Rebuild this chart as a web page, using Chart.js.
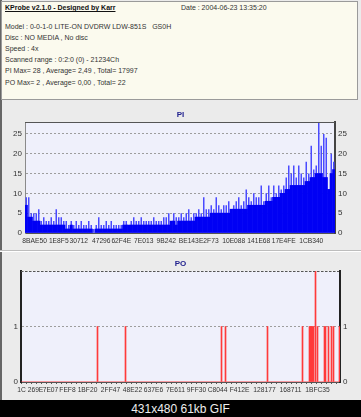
<!DOCTYPE html>
<html>
<head>
<meta charset="utf-8">
<script src="https://cdn.jsdelivr.net/npm/chart.js@4/dist/chart.umd.min.js"></script>
<style>
  html, body { margin: 0; padding: 0; background: #000; }
  #frame { position: relative; width: 361px; height: 417px; overflow: hidden; background: #000; font-family: "Liberation Sans", Arial, sans-serif; }
  #panel { position: absolute; left: 0; top: 0; width: 361px; height: 400px; background: #ebebeb; border-left: 2px solid #666; box-sizing: border-box; }
  #head { position: absolute; left: 1px; top: 1px; width: 357px; height: 99px; background: #fbfaee; border: 1px solid #9a9a9a; box-sizing: border-box; }
  .ln { position: absolute; left: 3px; font-size: 7px; color: #333; white-space: pre; line-height: 8px; }
  .ttl { font-weight: bold; text-decoration: underline; color: #111; }
  #sep { position: absolute; left: 0; top: 250px; width: 361px; height: 1px; background: #bdbdbd; border-bottom: 1px solid #fff; }
  canvas { position: absolute; left: 0; }
  #cap { position: absolute; left: 0; top: 402px; width: 361px; text-align: center; color: #eee; font-size: 12px; }
</style>
</head>
<body>
<div id="frame">
  <div id="panel"></div>
  <div id="head">
    <div class="ln ttl" style="top:2px">KProbe v2.1.0 - Designed by Karr</div>
    <div class="ln" style="top:2px;left:179px">Date : 2004-06-23 13:35:20</div>
    <div class="ln" style="top:21px">Model : 0-0-1-0 LITE-ON DVDRW LDW-851S   GS0H</div>
    <div class="ln" style="top:32px">Disc : NO MEDIA , No disc</div>
    <div class="ln" style="top:43px">Speed : 4x</div>
    <div class="ln" style="top:54px">Scanned range : 0:2:0 (0) - 21234Ch</div>
    <div class="ln" style="top:65px">PI Max= 28 , Average= 2,49 , Total= 17997</div>
    <div class="ln" style="top:77px">PO Max= 2 , Average= 0,00 , Total= 22</div>
  </div>
  <canvas id="piChart" width="361" height="147" style="top:103px"></canvas>
  <div id="sep"></div>
  <canvas id="poChart" width="361" height="148" style="top:252px"></canvas>
  <div id="cap">431x480 61kb GIF</div>
</div>
<script>
// PI per sample: peak spikes and the solid body underneath
const piPeak = [
  9, 9, 5, 5, 5, 6, 3, 4,
  3, 3, 4, 3, 6, 4, 4, 3,
  3, 2, 3, 2, 3, 2, 3, 2,
  2, 3, 2, 1, 2, 4, 2, 2,
  3, 2, 3, 2, 2, 2, 2, 3,
  3, 2, 3, 4, 3, 3, 4, 3,
  3, 3, 3, 4, 3, 3, 3, 4,
  4, 5, 3, 5, 4, 4, 5, 4,
  5, 6, 4, 5, 5, 6, 5, 9,
  6, 6, 7, 6, 9, 7, 6, 7,
  7, 8, 6, 7, 8, 9, 7, 8,
  11, 9, 8, 10, 9, 9, 12, 8,
  10, 12, 9, 12, 10, 12, 11, 12,
  14, 17, 15, 17, 14, 17, 15, 14,
  18, 15, 22, 16, 17, 28, 22, 25,
  24, 11, 20, 18
];
const piBase = [
  7, 4, 4, 3, 3, 3, 2, 2,
  2, 2, 2, 2, 2, 2, 2, 2,
  1, 1, 2, 1, 1, 1, 1, 1,
  1, 1, 1, 0, 1, 1, 1, 1,
  1, 1, 1, 1, 1, 1, 1, 2,
  2, 2, 2, 2, 2, 2, 2, 2,
  2, 2, 2, 2, 2, 2, 2, 2,
  2, 2, 3, 3, 2, 3, 3, 3,
  3, 3, 3, 3, 4, 4, 4, 4,
  4, 4, 5, 5, 5, 5, 5, 5,
  5, 5, 6, 6, 6, 6, 6, 6,
  6, 7, 7, 7, 7, 7, 7, 7,
  8, 8, 8, 9, 9, 9, 10, 10,
  11, 11, 12, 12, 12, 12, 12, 12,
  13, 13, 14, 14, 15, 15, 15, 14,
  14, 11, 15, 16
];
const piTickLabels = ["8B", "AE50", "1E8F5", "30712", "47296", "62F4E", "7E013", "9B242",
  "BE143", "E2F73", "10E088", "141E68", "17E4FE", "1CB340"];
const piTickAt = [0, 5, 13, 21, 30, 38, 47, 56, 65, 73, 83, 93, 103, 114];

// PO: samples that carry a nonzero count
const poCount = 319;
const poAt = [76, 104, 200, 204, 246, 281, 288, 289, 290, 291, 292, 294, 296, 303, 304, 307, 310, 312, 318];
const poVal = [1, 1, 1, 1, 1, 1, 1, 1, 1, 1, 1, 2, 1, 1, 1, 1, 1, 1, 1];
const poTickLabels = ["1C", "269E", "7E07", "FEF8", "1BF20", "2FF47", "48E22", "637E6", "7E611",
  "9FF30", "C8044", "F412E", "128177", "168711", "1BFC35"];
const poTickAt = [0, 14, 29, 46, 66, 89, 111, 132, 154, 175, 196, 218, 243, 269, 296];

function tickText(at, names) {
  return (v, i) => {
    const k = at.indexOf(i);
    return k >= 0 ? names[k] : "";
  };
}

const plotFrame = {
  id: "plotFrame",
  beforeDraw(chart, args, opts) {
    const a = chart.chartArea;
    const ctx = chart.ctx;
    ctx.save();
    ctx.fillStyle = opts.fill;
    ctx.fillRect(a.left, a.top, a.right - a.left, a.bottom - a.top);
    ctx.restore();
  },
  afterDatasetsDraw(chart, args, opts) {
    const a = chart.chartArea;
    const ctx = chart.ctx;
    ctx.save();
    ctx.strokeStyle = opts.topColor;
    ctx.lineWidth = 1;
    ctx.setLineDash(opts.topDash || []);
    ctx.beginPath();
    ctx.moveTo(a.left, a.top + 0.5);
    ctx.lineTo(a.right, a.top + 0.5);
    ctx.stroke();
    ctx.restore();
  }
};

const tickFont = { family: "Liberation Sans", size: 8 };
const xFont = { family: "Liberation Sans", size: 6.7 };
const titleFont = { family: "Liberation Sans", size: 8, weight: "bold", lineHeight: 1 };

function yAxes(max, step, leftW, rightW, leftBorder, rightBorder) {
  const hideMax = (v) => (v === max || v % step !== 0 ? "" : v);
  return {
    y: {
      min: 0, max: max,
      ticks: { stepSize: step, font: tickFont, color: "#333", padding: 3, callback: hideMax },
      grid: { color: "#9d9d9d", drawTicks: false },
      border: { color: leftBorder.color, width: leftBorder.width, dash: [2, 2] },
      afterFit: (s) => { s.width = leftW; }
    },
    y2: {
      position: "right",
      min: 0, max: max,
      ticks: { stepSize: step, font: tickFont, color: "#333", padding: 3, callback: hideMax },
      grid: { drawOnChartArea: false, drawTicks: false },
      border: { color: rightBorder.color, width: rightBorder.width },
      afterFit: (s) => { s.width = rightW; }
    }
  };
}

function xAxis(at, names, markEvery) {
  return {
    ticks: { autoSkip: false, maxRotation: 0, minRotation: 0, font: xFont, color: "#333", padding: 2, callback: tickText(at, names) },
    grid: {
      drawOnChartArea: false, tickLength: 2,
      color: (c) => (markEvery && c.index % markEvery === 0 ? "#555" : "rgba(0,0,0,0)")
    },
    border: { color: "#555", width: 1 },
    afterFit: (s) => { s.height = 14; }
  };
}

new Chart(document.getElementById("piChart"), {
  type: "bar",
  data: {
    labels: piPeak.map((v, i) => String(i)),
    datasets: [
      { data: piBase, backgroundColor: "#0000f4", barPercentage: 1, categoryPercentage: 1, order: 0, yAxisID: "y" },
      { data: piPeak, backgroundColor: "#4a4aff", barPercentage: 0.6, categoryPercentage: 1, order: 1, yAxisID: "y" }
    ]
  },
  options: {
    animation: false,
    responsive: false,
    layout: { padding: { left: 0, right: 0, top: 0, bottom: 3 } },
    datasets: { bar: { grouped: false } },
    plugins: {
      legend: { display: false },
      tooltip: { enabled: false },
      title: { display: true, text: "PI", color: "#23238f", font: titleFont, padding: { top: 8, bottom: 3 } },
      plotFrame: { fill: "#eff0fb", topColor: "#555" }
    },
    scales: Object.assign({ x: xAxis(piTickAt, piTickLabels, 0) },
      yAxes(28, 5, 25, 26, { color: "#8a8a8a", width: 1 }, { color: "#444", width: 2 }))
  },
  plugins: [plotFrame]
});

const poData = new Array(poCount).fill(0);
poAt.forEach((at, i) => { poData[at] = poVal[i]; });

new Chart(document.getElementById("poChart"), {
  type: "bar",
  data: {
    labels: poData.map((v, i) => String(i)),
    datasets: [
      { data: poData, backgroundColor: "#ff3a3a", barThickness: 1, yAxisID: "y" }
    ]
  },
  options: {
    animation: false,
    responsive: false,
    layout: { padding: { left: 0, right: 0, top: 0, bottom: 4 } },
    plugins: {
      legend: { display: false },
      tooltip: { enabled: false },
      title: { display: true, text: "PO", color: "#23238f", font: titleFont, padding: { top: 8, bottom: 3 } },
      plotFrame: { fill: "#eff0fb", topColor: "#555", topDash: [2, 2] }
    },
    scales: Object.assign({ x: xAxis(poTickAt, poTickLabels, 5) },
      yAxes(2, 1, 21, 21, { color: "#222", width: 2 }, { color: "#222", width: 2 }))
  },
  plugins: [plotFrame]
});
</script>
</body>
</html>
